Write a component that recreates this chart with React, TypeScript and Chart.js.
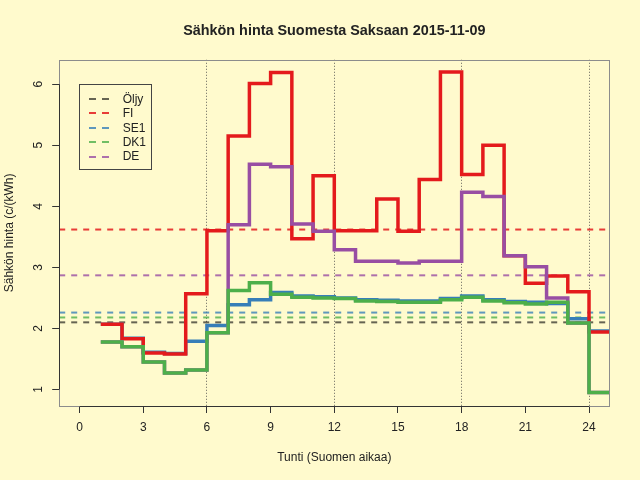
import React, { useEffect, useRef } from 'react';
import Chart from 'chart.js/auto';

// hourly prices c/kWh, hour h covers [h, h+1)
const hours = [1, 2, 3, 4, 5, 6, 7, 8, 9, 10, 11, 12, 13, 14, 15, 16, 17, 18, 19, 20, 21, 22, 23, 24];
const fi = [2.07, 1.83, 1.60, 1.58, 2.57, 3.60, 5.15, 6.01, 6.19, 3.47, 4.50, 3.60, 3.60, 4.12, 3.59, 4.44, 6.20, 4.52, 5.00, 3.19, 2.74, 2.86, 2.60, 1.94];
const se1 = [2.07, 1.84, 1.61, 1.59, 1.79, 2.05, 2.39, 2.47, 2.59, 2.53, 2.52, 2.50, 2.47, 2.46, 2.45, 2.45, 2.49, 2.53, 2.47, 2.44, 2.43, 2.41, 2.16, 1.96];
const dk1 = [1.78, 1.70, 1.45, 1.27, 1.32, 1.93, 2.62, 2.75, 2.56, 2.51, 2.50, 2.49, 2.45, 2.44, 2.43, 2.43, 2.47, 2.51, 2.45, 2.42, 2.40, 2.43, 2.09, 0.95];
const de = [1.78, 1.70, 1.45, 1.27, 1.32, 1.93, 3.70, 4.69, 4.65, 3.71, 3.59, 3.29, 3.10, 3.10, 3.07, 3.10, 3.10, 4.23, 4.16, 3.19, 3.01, 2.50, 2.09, 0.95];

// daily averages (dashed lines)
const avgLabels = ['Öljy', 'FI', 'SE1', 'DK1', 'DE'];
const avgValues = [2.10, 3.62, 2.26, 2.18, 2.87];

const xTicks = [0, 3, 6, 9, 12, 15, 18, 21, 24];
const yTicks = [1, 2, 3, 4, 5, 6];
const dottedHours = [6, 12, 18, 24];

const X_MIN = -0.96;
const X_MAX = 24.96;

const BG = '#FFFACD';
const INK = '#222222';
const FONT = "'Liberation Sans', Arial, sans-serif";

const lineColors: Record<string, string> = {
  'Öljy': '#000000',
  FI: '#E41A1C',
  SE1: '#377EB8',
  DK1: '#4DAF4A',
  DE: '#984EA3',
};
const dashColors: Record<string, string> = {
  'Öljy': 'rgba(0,0,0,0.6)',
  FI: 'rgba(228,26,28,0.85)',
  SE1: 'rgba(55,126,184,0.8)',
  DK1: 'rgba(77,175,74,0.8)',
  DE: 'rgba(152,78,163,0.8)',
};

const stepPoints = (vals: number[]) => [
  ...vals.map((v, i) => ({ x: hours[i], y: v })),
  { x: hours[hours.length - 1] + 1, y: vals[vals.length - 1] },
];

const stepSet = (label: string, vals: number[]) => ({
  label,
  data: stepPoints(vals),
  stepped: 'before' as const,
  borderColor: lineColors[label],
  borderWidth: 3.5,
  borderJoinStyle: 'miter' as const,
  borderCapStyle: 'butt' as const,
  pointRadius: 0,
  fill: false,
  clip: 0,
});

const background = {
  id: 'background',
  beforeDraw(chart: Chart) {
    const { ctx, width, height } = chart;
    ctx.save();
    ctx.fillStyle = BG;
    ctx.fillRect(0, 0, width, height);
    ctx.restore();
  },
};

const frame = {
  id: 'frame',
  afterDraw(chart: Chart) {
    const { ctx, chartArea: a, scales } = chart;
    const x = scales.x;
    const y = scales.y;
    ctx.save();
    ctx.lineWidth = 1;
    ctx.strokeStyle = '#8c8c8c';
    ctx.strokeRect(Math.round(a.left) + 0.5, Math.round(a.top) + 0.5, Math.round(a.right - a.left), Math.round(a.bottom - a.top));
    ctx.strokeStyle = '#333333';
    ctx.beginPath();
    const by = Math.round(a.bottom) + 0.5;
    ctx.moveTo(x.getPixelForValue(xTicks[0]), by);
    ctx.lineTo(x.getPixelForValue(xTicks[xTicks.length - 1]), by);
    const lx = Math.round(a.left) + 0.5;
    ctx.moveTo(lx, y.getPixelForValue(yTicks[0]));
    ctx.lineTo(lx, y.getPixelForValue(yTicks[yTicks.length - 1]));
    ctx.stroke();
    ctx.restore();
  },
};

export default function App() {
  const canvasRef = useRef<HTMLCanvasElement>(null);

  useEffect(() => {
    document.body.style.margin = '0';
    document.body.style.background = BG;
    const ctx = canvasRef.current?.getContext('2d');
    if (!ctx) return;

    Chart.defaults.font.family = FONT;
    Chart.defaults.color = INK;

    const avgSets = avgLabels.map((label, i) => ({
      label: label + ' ka',
      data: [{ x: X_MIN, y: avgValues[i] }, { x: X_MAX, y: avgValues[i] }],
      borderColor: dashColors[label],
      borderWidth: 2,
      borderDash: [6, 6],
      pointRadius: 0,
      fill: false,
      clip: 0,
    }));

    // first dataset is drawn on top
    const chart = new Chart(ctx, {
      type: 'line',
      data: {
        datasets: [
          stepSet('DK1', dk1),
          stepSet('DE', de),
          stepSet('FI', fi),
          stepSet('SE1', se1),
          ...avgSets,
        ],
      },
      options: {
        responsive: false,
        animation: false,
        devicePixelRatio: 1,
        layout: { padding: { left: 0, right: 30.6, top: 0, bottom: 0 } },
        plugins: {
          legend: { display: false },
          tooltip: { enabled: false },
          title: {
            display: true,
            text: 'Sähkön hinta Suomesta Saksaan 2015-11-09',
            fullSize: false,
            color: INK,
            font: { size: 14.4, weight: 'bold', family: FONT },
            padding: { top: 22.3, bottom: 20.2 },
          },
        },
        scales: {
          x: {
            type: 'linear',
            min: X_MIN,
            max: X_MAX,
            afterBuildTicks: (s: any) => {
              s.ticks = xTicks.map((v) => ({ value: v }));
            },
            afterFit: (s: any) => {
              s.height = 74;
            },
            ticks: {
              autoSkip: false,
              maxRotation: 0,
              padding: 7.8,
              color: INK,
              font: { size: 12, family: FONT },
            },
            grid: {
              color: (c: any) => (c.tick && dottedHours.includes(c.tick.value) ? 'rgba(70,70,70,0.85)' : 'rgba(0,0,0,0)'),
              lineWidth: 1,
              tickColor: '#333333',
              tickLength: 7,
              tickWidth: 1,
            },
            border: { display: false, dash: [1, 2] },
            title: {
              display: true,
              text: 'Tunti (Suomen aikaa)',
              color: INK,
              font: { size: 12, family: FONT },
              padding: { top: 0, bottom: 14.8 },
            },
          },
          y: {
            type: 'linear',
            min: 0.73,
            max: 6.4,
            afterBuildTicks: (s: any) => {
              s.ticks = yTicks.map((v) => ({ value: v }));
            },
            afterFit: (s: any) => {
              s.width = 59.2;
            },
            ticks: {
              autoSkip: false,
              minRotation: 90,
              maxRotation: 90,
              crossAlign: 'center',
              padding: 10.6,
              color: INK,
              font: { size: 12, family: FONT },
            },
            grid: {
              drawOnChartArea: false,
              tickColor: '#333333',
              tickLength: 7,
              tickWidth: 1,
            },
            border: { display: false },
            title: {
              display: true,
              text: 'Sähkön hinta (c/(kWh)',
              color: INK,
              font: { size: 12, family: FONT },
              padding: { top: 2, bottom: 0 },
            },
          },
        },
      },
      plugins: [background, frame],
    });

    return () => {
      chart.destroy();
    };
  }, []);

  return (
    <div style={{ position: 'fixed', left: 0, top: 0, width: 640, height: 480, background: BG }}>
      <canvas ref={canvasRef} width={640} height={480} style={{ width: 640, height: 480, display: 'block' }}></canvas>
      <div
        style={{
          position: 'absolute',
          left: 79,
          top: 84,
          width: 73,
          height: 86,
          border: '1px solid #444',
          boxSizing: 'border-box',
          fontFamily: FONT,
          fontSize: 12,
          color: INK,
        }}
      >
        {avgLabels.map((label, i) => (
          <React.Fragment key={label}>
            <svg
              width={20}
              height={4}
              style={{ position: 'absolute', left: 9.3, top: 14 + i * 14.4 - 2 }}
            >
              <line x1={0} y1={2} x2={20} y2={2} stroke={dashColors[label]} strokeWidth={2} strokeDasharray="7 6" />
            </svg>
            <div style={{ position: 'absolute', left: 42.7, top: 14 + i * 14.4 - 7.2, lineHeight: '14.4px', whiteSpace: 'nowrap' }}>
              {label}
            </div>
          </React.Fragment>
        ))}
      </div>
    </div>
  );
}
